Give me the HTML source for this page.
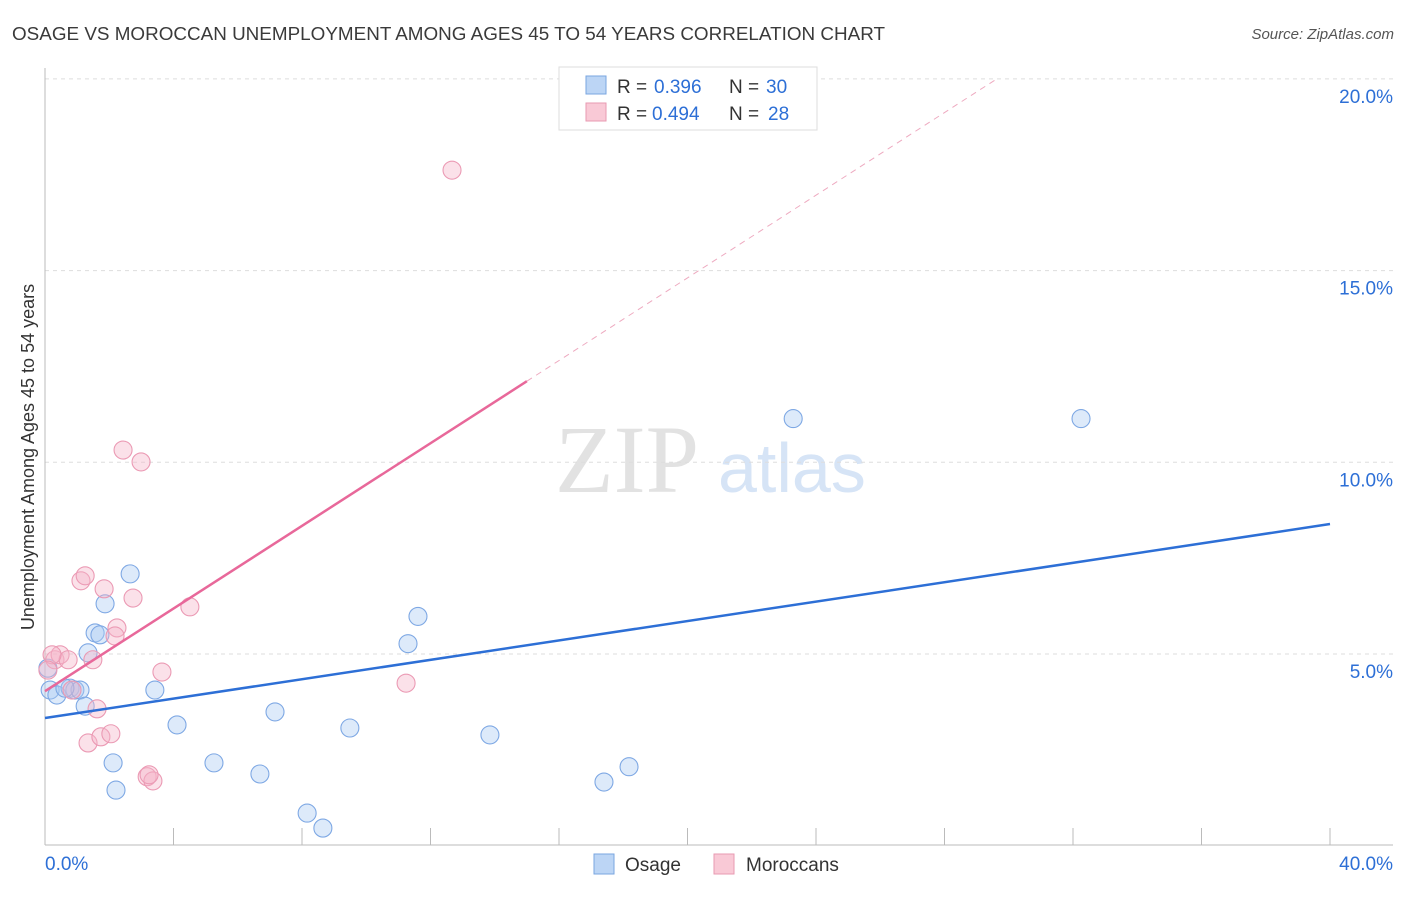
<!DOCTYPE html>
<html><head><meta charset="utf-8"><style>
body{margin:0;background:#fff;font-family:"Liberation Sans",sans-serif}
</style></head><body>
<svg id="c" width="1406" height="892" xmlns="http://www.w3.org/2000/svg" style="font-family:'Liberation Sans',sans-serif">
<text x="12" y="40" font-size="18" fill="#3a3a3a" textLength="873" lengthAdjust="spacingAndGlyphs">OSAGE VS MOROCCAN UNEMPLOYMENT AMONG AGES 45 TO 54 YEARS CORRELATION CHART</text>
<text x="1394" y="39" font-size="15" fill="#555" text-anchor="end" font-style="italic">Source: ZipAtlas.com</text>
<text transform="translate(34,457) rotate(-90)" font-size="18" fill="#333" text-anchor="middle">Unemployment Among Ages 45 to 54 years</text>
<text x="555" y="492" font-size="96" fill="#e2e2e2" font-family="Liberation Serif">ZIP</text>
<text x="718" y="492" font-size="70" fill="#d6e4f6">atlas</text>
<g id="grid"></g><g id="marks"></g>
<g>
<rect x="559" y="67" width="258" height="63" fill="#fff" stroke="#ddd"/>
<rect x="586" y="76" width="20" height="18" fill="#bcd5f5" stroke="#7aa6e0"/>
<text x="617" y="93" font-size="19" fill="#333">R =</text>
<text x="654" y="93" font-size="19" fill="#2d6fd6">0.396</text>
<text x="729" y="93" font-size="19" fill="#333">N =</text>
<text x="766" y="93" font-size="19" fill="#2d6fd6">30</text>
<rect x="586" y="103" width="20" height="18" fill="#f9c9d6" stroke="#e89ab2"/>
<text x="617" y="120" font-size="19" fill="#333">R =</text>
<text x="652" y="120" font-size="19" fill="#2d6fd6">0.494</text>
<text x="729" y="120" font-size="19" fill="#333">N =</text>
<text x="768" y="120" font-size="19" fill="#2d6fd6">28</text>
</g>
<g>
<rect x="594" y="854" width="20" height="20" fill="#bcd5f5" stroke="#7aa6e0"/>
<text x="625" y="871" font-size="19" fill="#333">Osage</text>
<rect x="714" y="854" width="20" height="20" fill="#f9c9d6" stroke="#e89ab2"/>
<text x="746" y="871" font-size="19" fill="#333">Moroccans</text>
</g>
</svg>
<script>
const yTicks=[5,10,15,20];
const yTickLabels=["5.0%","10.0%","15.0%","20.0%"];
const xTickLabels=["0.0%","40.0%"];
const osageX=[2.65,1.87,1.56,1.71,1.34,3.42,4.11,2.12,2.21,5.26,6.69,7.16,8.16,8.65,9.49,11.30,11.61,13.85,17.40,18.18,23.29,32.25,0.16,0.37,0.78,0.93,1.09,1.25,0.62,0.09];
const osageY=[7.09,6.31,5.55,5.50,5.03,4.06,3.15,2.16,1.45,2.16,1.87,3.49,0.85,0.46,3.07,5.27,5.98,2.89,1.66,2.06,11.14,11.14,4.06,3.93,4.11,4.06,4.06,3.64,4.11,4.63];
const morX=[12.67,2.43,2.99,1.12,1.25,1.84,2.74,4.51,2.24,2.18,1.49,0.31,0.47,0.72,3.64,11.24,1.62,1.34,1.74,2.05,3.18,3.36,3.24,0.84,0.22,0.09];
const morY=[17.62,10.32,10.01,6.91,7.04,6.70,6.46,6.23,5.68,5.47,4.85,4.85,4.98,4.85,4.53,4.24,3.57,2.68,2.84,2.92,1.80,1.69,1.85,4.06,4.98,4.58];
const osageTrend=[3.33,8.39];
const morTrend=[4.03,0.539];
const NS="http://www.w3.org/2000/svg";
const X=v=>45+v/40*1285, Y=v=>845.7-v/5*191.7;
function mk(t,a,p){const e=document.createElementNS(NS,t);for(const k in a)e.setAttribute(k,a[k]);p.appendChild(e);return e;}
const g=document.getElementById('grid'),m=document.getElementById('marks');
yTicks.forEach((t,i)=>{
 const l=mk('line',{x1:45,x2:1393,y1:Y(t),y2:Y(t),stroke:'#ddd','stroke-dasharray':'4,4'},g);
 
 
 const tx=mk('text',{x:1393,y:Y(t)+24,'font-size':19,fill:'#2d6fd6','text-anchor':'end'},g);
 tx.textContent=yTickLabels[i];
 
 
});
const ax=mk('line',{x1:45,x2:45,y1:68,y2:845,stroke:'#bbb'},g);


const bx=mk('line',{x1:45,x2:1393,y1:845,y2:845,stroke:'#bbb'},g);


for(let i=0;i<=10;i++){const t=mk('line',{x1:X(i*4),x2:X(i*4),y1:828,y2:845,stroke:'#bbb'},g);
 
 }
[[0,'start',45],[40,'end',1393]].forEach((d,i)=>{const t=mk('text',{x:d[2],y:870,'font-size':19,fill:'#2d6fd6','text-anchor':d[1]},g);t.textContent=xTickLabels[i];
 
 });
function pts(xs,ys,fill,stroke,name){xs.forEach((x,i)=>{const c=mk('circle',{cx:X(x),cy:Y(ys[i]),r:9,fill:fill,stroke:stroke,'stroke-width':1.1},m);
 
 });}
pts(osageX,osageY,'rgba(170,202,242,0.4)','#7ea8e4','osage-point');
pts(morX,morY,'rgba(246,180,200,0.4)','#eb9ab4','moroccan-point');
const ol=mk('line',{x1:X(0),y1:Y(osageTrend[0]),x2:X(40),y2:Y(osageTrend[1]),stroke:'#2d6fd6','stroke-width':2.5},m);


const mf=v=>morTrend[0]+morTrend[1]*v, xEnd=(20-morTrend[0])/morTrend[1];
const pl=mk('line',{x1:X(0),y1:Y(mf(0)),x2:X(15),y2:Y(mf(15)),stroke:'#e8689a','stroke-width':2.5},m);


const pd=mk('line',{x1:X(15),y1:Y(mf(15)),x2:X(xEnd),y2:Y(20),stroke:'#eeaac0','stroke-width':1,'stroke-dasharray':'6,5'},m);


</script>
</body></html>
